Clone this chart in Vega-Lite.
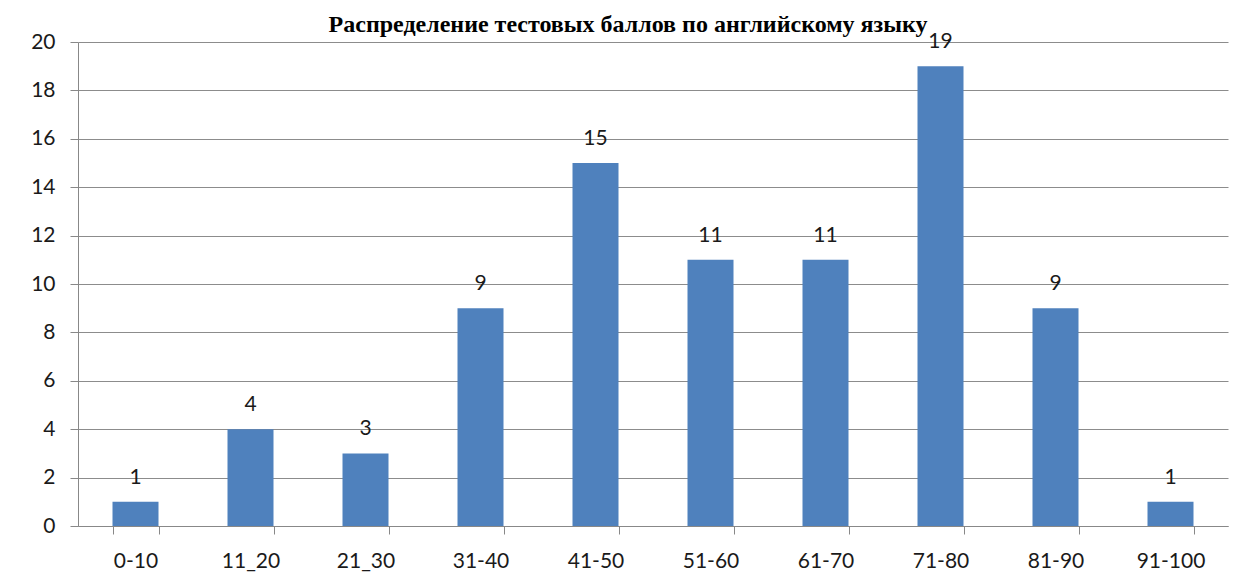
{
  "$schema": "https://vega.github.io/schema/vega-lite/v6.json",
  "autosize": "none",
  "width": 1150,
  "height": 484,
  "padding": {"left": 78, "top": 42, "right": 16, "bottom": 60},
  "background": "white",
  "title": {
    "text": "Распределение тестовых баллов по английскому языку",
    "font": "Liberation Serif",
    "fontSize": 24,
    "fontWeight": "bold",
    "color": "black",
    "baseline": "alphabetic",
    "offset": -25,
    "anchor": "middle",
    "dx": -25
  },
  "data": {
    "values": [
      {"range": "0-10", "count": 1},
      {"range": "11_20", "count": 4},
      {"range": "21_30", "count": 3},
      {"range": "31-40", "count": 9},
      {"range": "41-50", "count": 15},
      {"range": "51-60", "count": 11},
      {"range": "61-70", "count": 11},
      {"range": "71-80", "count": 19},
      {"range": "81-90", "count": 9},
      {"range": "91-100", "count": 1}
    ]
  },
  "config": {
    "view": {"stroke": null},
    "axis": {
      "labelFont": "Lato",
      "labelFontSize": 21,
      "labelColor": "#1a1a1a",
      "domainColor": "#888888",
      "tickColor": "#888888",
      "gridColor": "#8c8c8c",
      "tickSize": 8,
      "titleFontSize": 0
    }
  },
  "encoding": {
    "x": {
      "field": "range",
      "type": "nominal",
      "sort": null,
      "scale": {"paddingInner": 0.6, "paddingOuter": 0.3},
      "axis": {
        "title": null,
        "labelAngle": 0,
        "tickBand": "extent",
        "grid": false,
        "labelBaseline": "middle",
        "labelPadding": 27
      }
    },
    "y": {
      "field": "count",
      "type": "quantitative",
      "scale": {"domain": [0, 20], "nice": false},
      "axis": {
        "title": null,
        "values": [0, 2, 4, 6, 8, 10, 12, 14, 16, 18, 20],
        "grid": true,
        "labelPadding": 15
      }
    }
  },
  "layer": [
    {"mark": {"type": "bar", "color": "#4F81BD"}},
    {
      "mark": {
        "type": "text",
        "font": "Lato",
        "fontSize": 21,
        "color": "#1a1a1a",
        "baseline": "alphabetic",
        "dy": -18
      },
      "encoding": {"text": {"field": "count", "type": "quantitative"}}
    }
  ]
}
